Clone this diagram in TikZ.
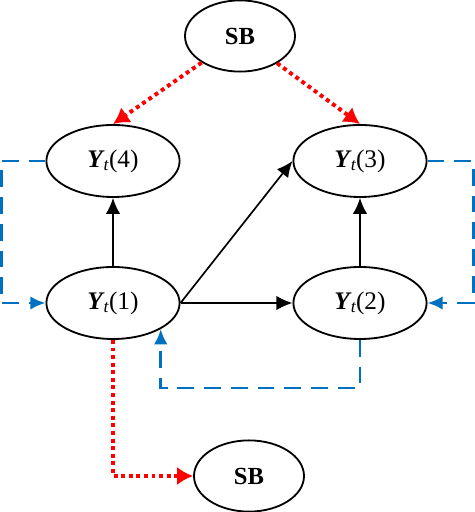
\documentclass[tikz,border=0pt]{standalone}
\usepackage{fontspec}
\setmainfont{Liberation Serif}
\usepackage{tikz}
\usepackage{xcolor}
\usetikzlibrary{calc}
\usetikzlibrary{arrows.meta}
\usetikzlibrary{shapes.geometric}
\definecolor{linkblue}{RGB}{0,112,192}
\newcommand{\yt}[1]{\textbf{\textit{Y}}\kern-0.8pt\textsubscript{\textit{t}}\kern-0.5pt(#1)}

\begin{document}
\begin{tikzpicture}[
  state/.style={ellipse,draw,line width=1.3pt,inner sep=0pt,minimum width=3.33cm,minimum height=1.8cm,font=\fontsize{18}{21}\selectfont},
  sbnode/.style={state,minimum width=2.75cm,minimum height=1.78cm,font=\fontsize{17.5}{21}\selectfont\bfseries},
  solid arrow/.style={line width=1.2pt,-{Latex[length=4mm,width=3.6mm]}},
  shock/.style={red,line width=2.8pt,dash pattern=on 2.8pt off 2.6pt,-{Latex[length=4mm,width=4.6mm]}},
  spill/.style={linkblue,line width=2pt,dash pattern=on 12pt off 7pt,-{Latex[length=3.8mm,width=3.4mm]}}]
\useasboundingbox (0,0) rectangle (11.85,12.8);
\node[sbnode] (sbtop) at (6.0,11.9) {SB};
\node[state] (y4) at (2.825,8.775) {\yt{4}};
\node[state] (y3) at (9.0,8.775) {\yt{3}};
\node[state] (y1) at (2.825,5.225) {\yt{1}};
\node[state] (y2) at (9.0,5.225) {\yt{2}};
\node[sbnode] (sbbot) at (6.225,0.9) {SB};
% shock from SB
\draw[shock] (sbtop) -- (y4.north);
\draw[shock] (sbtop) -- (y3.north);
\draw[shock] (y1.south) |- (sbbot.west);
% direct links
\draw[solid arrow] (y1.north) -- (y4.south);
\draw[solid arrow] (y2.north) -- (y3.south);
\draw[solid arrow] (y1.east) -- (y2.west);
\draw[solid arrow] (y1.east) -- (y3.west);
% feedback loops
\draw[spill] (y4.west) -- ++(-1.1,0) |- (y1.west);
\draw[spill] (y3.east) -- ++(1.14,0) |- (y2.east);
\draw[spill] (y2.south) -- ++(0,-1.2) -| (y1.south east);
\end{tikzpicture}
\end{document}
